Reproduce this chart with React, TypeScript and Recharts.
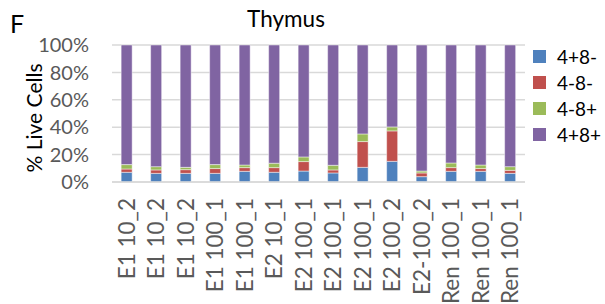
import React from "react";
import { BarChart, Bar, XAxis, YAxis, CartesianGrid, Legend } from "recharts";

const categories = [
  "E1 10_2", "E1 10_2", "E1 10_2", "E1 100_1", "E1 100_1", "E2 10_1", "E2 100_1",
  "E2 100_1", "E2 100_1", "E2 100_2", "E2-100_2", "Ren 100_1", "Ren 100_1", "Ren 100_1",
];
const dp = [7.1, 6.3, 6.3, 6.3, 7.8, 7.1, 8.0, 6.6, 10.7, 15.1, 3.9, 7.8, 7.8, 6.3];
const dn = [2.4, 2.5, 2.7, 3.5, 2.7, 3.4, 6.9, 2.2, 18.8, 22.2, 2.7, 2.7, 2.0, 2.2];
const np = [3.2, 2.4, 1.7, 2.9, 1.9, 3.2, 3.4, 3.4, 5.6, 2.9, 1.4, 3.4, 2.6, 2.7];
const pp = [87.3, 88.8, 89.3, 87.3, 87.6, 86.3, 81.7, 87.8, 64.9, 59.8, 92.0, 86.1, 87.6, 88.8];
const yTicks = [0, 20, 40, 60, 80, 100];

const seriesNames = ["4+8-", "4-8-", "4-8+", "4+8+"];
const seriesKeys = ["a", "b", "c", "d"];
const seriesColors = ["#4F81BD", "#C0504D", "#9BBB59", "#8064A2"];

const data = categories.map((name, i) => ({ name, a: dp[i], b: dn[i], c: np[i], d: pp[i] }));

const FONT = "Lato, 'Open Sans', sans-serif";

const XTick = (props: any) => {
  const { x, y, payload } = props;
  return (
    <text
      transform={`translate(${x},${y}) rotate(-90)`}
      textAnchor="end"
      dy="0.36em"
      fill="#595959"
      fontSize={22.5}
      fontFamily={FONT}
    >
      {payload.value}
    </text>
  );
};

const LegendContent = () => (
  <div style={{ fontFamily: FONT }}>
    {seriesNames.map((n, i) => (
      <div key={n} style={{ display: "flex", alignItems: "center", height: 26 }}>
        <div style={{ width: 13, height: 13, background: seriesColors[i], marginRight: 11 }} />
        <span style={{ fontSize: 19, color: "#000" }}>{n}</span>
      </div>
    ))}
  </div>
);

export default function App() {
  return (
    <div style={{ position: "absolute", left: 0, top: 0, width: 605, height: 304, background: "#fff", fontFamily: FONT }}>
      <BarChart
        width={605}
        height={304}
        data={data}
        margin={{ top: 45, right: 80, left: 0, bottom: 0 }}
        barCategoryGap="31%"
      >
        <text x={10} y={33} fontSize={25} fontFamily={FONT} fill="#000">F</text>
        <text x={286} y={27} textAnchor="middle" fontSize={22.5} fontFamily={FONT} fill="#000">Thymus</text>
        <text
          transform="translate(42,118) rotate(-90)"
          textAnchor="middle"
          fontSize={21}
          fontFamily={FONT}
          fill="#000"
        >
          % Live Cells
        </text>
        <CartesianGrid vertical={false} stroke="#D9D9D9" strokeWidth={1.5} />
        <XAxis
          dataKey="name"
          interval={0}
          height={122}
          tickLine={false}
          tickSize={0}
          tickMargin={16}
          axisLine={{ stroke: "#D9D9D9", strokeWidth: 1.5 }}
          tick={<XTick />}
        />
        <YAxis
          width={112}
          domain={[0, 100]}
          ticks={yTicks}
          interval={0}
          tickFormatter={(v: number) => `${v}%`}
          axisLine={false}
          tickLine={false}
          tickSize={0}
          tickMargin={23}
          tick={{ fill: "#595959", fontSize: 20, fontFamily: FONT }}
        />
        <Legend
          layout="horizontal"
          verticalAlign="middle"
          align="center"
          content={<LegendContent />}
          wrapperStyle={{ position: "absolute", left: 533, top: 43, width: 72, height: 110 }}
        />
        {seriesKeys.map((k, i) => (
          <Bar
            key={k}
            dataKey={k}
            name={seriesNames[i]}
            stackId="s"
            fill={seriesColors[i]}
            stroke="#ffffff"
            strokeOpacity={0.45}
            strokeWidth={1}
            isAnimationActive={false}
          />
        ))}
      </BarChart>
    </div>
  );
}
